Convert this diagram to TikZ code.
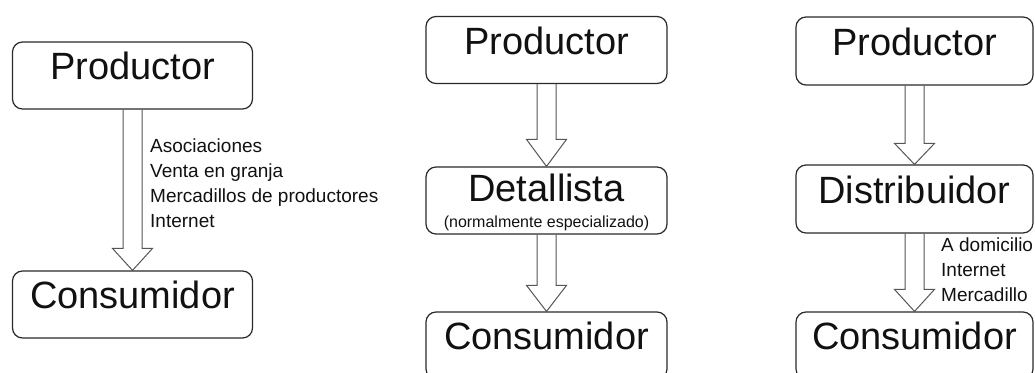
\documentclass[tikz,border=0pt]{standalone}
\usepackage{fontspec}
\setmainfont{Liberation Sans}
\usetikzlibrary{calc}
\definecolor{boxline}{HTML}{2A2A2A}
\definecolor{arrline}{HTML}{555555}
\definecolor{txt}{HTML}{111111}
\tikzset{
  box/.style={draw=boxline, line width=1.2pt, rounded corners=10pt,
    minimum width=240pt, minimum height=67pt, inner sep=0pt, text=txt,
    font=\fontsize{38}{44}\selectfont, text height=0.85em, text depth=0.05em},
  lbl/.style={anchor=base west, inner sep=0pt, text=txt, font=\fontsize{19}{24}\selectfont},
  sublbl/.style={anchor=base, inner sep=0pt, text=txt},
  blockarrow/.style={draw=arrline, line width=1pt, line join=miter},
}
\newcommand\hollowarrow[3]{%
  \draw[blockarrow] ($(#1.south)+(-9.5,0)$) -- ($(#2.north)+(-9.5,-#3)$)
    -- ($(#2.north)+(-20,-#3)$) -- (#2.north) -- ($(#2.north)+(20,-#3)$)
    -- ($(#2.north)+(9.5,-#3)$) -- ($(#1.south)+(9.5,0)$);}
\begin{document}
\begin{tikzpicture}[x=1pt,y=-1pt]
\useasboundingbox (0,0) rectangle (1035,372);
% left
\node[box] (lp) at (132.5,75.5) {Productor};
\node[box] (lc) at (132.5,304.5) {Consumidor};
\hollowarrow{lp}{lc}{22}
\node[lbl] (l1) at (150,152) {Asociaciones};
\node[lbl] (l2) at (150,177) {Venta en granja};
\node[lbl] (l3) at (150,202) {Mercadillos de productores};
\node[lbl] (l4) at (150,227) {Internet};
% middle
\node[box, minimum width=241pt] (mp) at (546.5,50) {Productor};
\node[box, minimum width=241pt] (md) at (546.5,200.5) {};
\node[sublbl, font=\fontsize{38}{44}\selectfont] (mdt) at (546.5,201) {Detallista};
\node[sublbl, font=\fontsize{16}{19}\selectfont] (mds) at (546.5,227) {(normalmente especializado)};
\node[box, minimum width=241pt] (mc) at (546.5,345.5) {Consumidor};
\hollowarrow{mp}{md}{27}
\hollowarrow{md}{mc}{26}
% right
\node[box, minimum width=237pt, minimum height=68pt] (rp) at (914.5,51) {Productor};
\node[box, minimum width=237pt, minimum height=68pt] (rd) at (914.5,199) {Distribuidor};
\node[box, minimum width=237pt] (rc) at (914.5,345.5) {Consumidor};
\hollowarrow{rp}{rd}{21}
\hollowarrow{rd}{rc}{22}
\node[lbl] (r1) at (941,251) {A domicilio};
\node[lbl] (r2) at (941,276) {Internet};
\node[lbl] (r3) at (941,301) {Mercadillo};
\end{tikzpicture}
\end{document}
